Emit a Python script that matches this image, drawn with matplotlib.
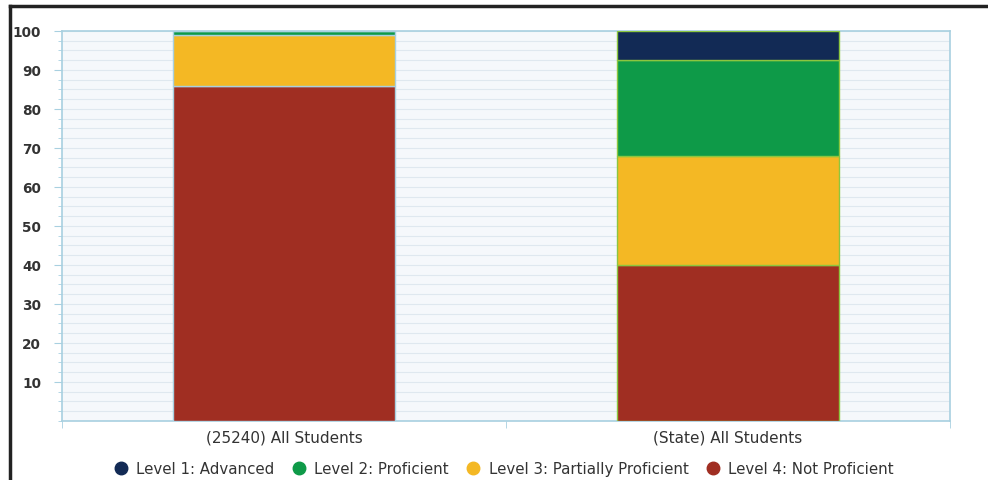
import matplotlib.pyplot as plt
from matplotlib.lines import Line2D
import numpy as np

plt.rcParams['font.family'] = ['DejaVu Sans']

groups = ['(25240) All Students', '(State) All Students']
levels = ['Level 1: Advanced', 'Level 2: Proficient',
          'Level 3: Partially Proficient', 'Level 4: Not Proficient']
advanced = [0, 7.5]
proficient = [1, 24.5]
partial = [13, 28]
not_prof = [86, 40]
colors = ['#122a55', '#0e9a48', '#f4b824', '#a02e22']
edges = ['#a8d0e0', '#8cc63f']

fig = plt.figure(figsize=(9.88, 4.81), dpi=100)
ax = fig.add_axes([0.0628, 0.1227, 0.8987, 0.8108])
ax.set_facecolor('#f5f8fb')

x = np.arange(len(groups))
bottom = np.zeros(len(groups))
# stack from the bottom: level 4 first
for vals, c in zip([not_prof, partial, proficient, advanced], colors[::-1]):
    ax.bar(x, vals, 0.5, bottom=bottom, color=c, edgecolor=edges, linewidth=1, zorder=3)
    bottom += np.array(vals)

ax.set_xlim(-0.5, 1.5)
ax.set_ylim(0, 100)
ax.set_yticks(np.arange(10, 101, 10))
ax.set_yticks(np.arange(0, 100.1, 2.5), minor=True)
ax.tick_params(axis='y', which='major', length=6, color='#a8d0e0', labelsize=9.8,
               labelcolor='#333333', pad=9)
ax.tick_params(axis='y', which='minor', length=3, color='#a8d0e0')
for t in ax.get_yticklabels():
    t.set_fontweight('bold')
ax.grid(axis='y', which='both', color='#dfe8ef', linewidth=0.8, zorder=0)

ax.set_xticks(x)
ax.set_xticklabels(groups, fontsize=11, color='#333333')
ax.set_xticks([-0.5, 0.5, 1.5], minor=True)
ax.tick_params(axis='x', which='major', length=0, pad=6)
ax.tick_params(axis='x', which='minor', length=5, color='#a8d0e0', direction='out')

for s in ax.spines.values():
    s.set_color('#a8d0e0')
    s.set_linewidth(1.2)

handles = [Line2D([], [], marker='o', linestyle='', color=c, markersize=9) for c in colors]
fig.legend(handles, levels, loc='center', bbox_to_anchor=(0.506, 0.024), ncol=4,
           frameon=False, fontsize=10.8, handletextpad=0.05, columnspacing=0.6,
           labelcolor='#333333')

# black frame at top and left of the screenshot
fig.add_artist(Line2D([0.0105, 1.0], [0.985, 0.985], color='#222222', linewidth=2.5))
fig.add_artist(Line2D([0.0105, 0.0105], [0.0, 0.985], color='#222222', linewidth=2.5))

fig.savefig('out.png', dpi=100)
